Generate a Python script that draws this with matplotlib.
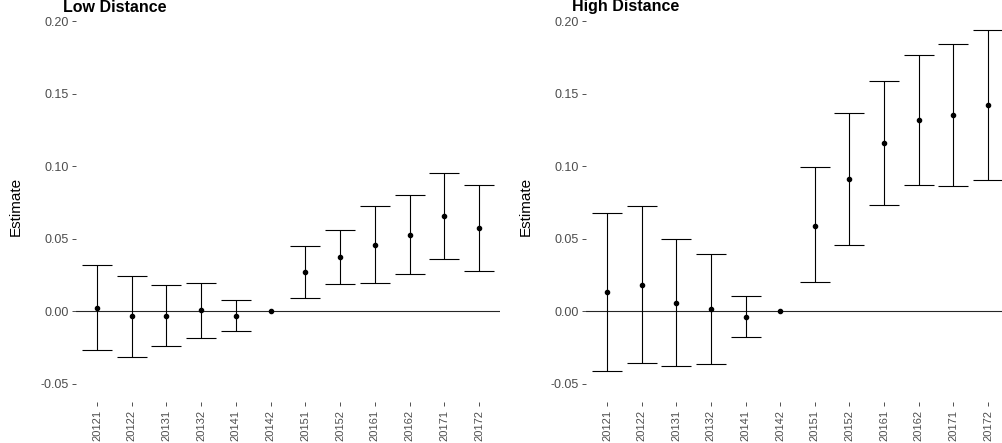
import matplotlib.pyplot as plt
import numpy as np

plt.rcParams['font.family'] = ['Liberation Sans', 'DejaVu Sans']

nan = float('nan')

# half-year periods (year + half), 20142 is the omitted reference period
periods = ['20121', '20122', '20131', '20132', '20141', '20142',
           '20151', '20152', '20161', '20162', '20171', '20172']

low_est = [0.0025, -0.0034, -0.0030, 0.0007, -0.0033, 0.0,
           0.0270, 0.0371, 0.0460, 0.0527, 0.0658, 0.0573]
low_lo = [-0.0269, -0.0317, -0.0241, -0.0181, -0.0133, nan,
          0.0092, 0.0188, 0.0197, 0.0259, 0.0360, 0.0275]
low_hi = [0.0317, 0.0243, 0.0179, 0.0195, 0.0078, nan,
          0.0447, 0.0562, 0.0724, 0.0802, 0.0953, 0.0871]

high_est = [0.0133, 0.0183, 0.0057, 0.0016, -0.0039, 0.0,
            0.0590, 0.0912, 0.1160, 0.1318, 0.1354, 0.1423]
high_lo = [-0.0412, -0.0357, -0.0380, -0.0360, -0.0179, nan,
           0.0200, 0.0460, 0.0733, 0.0871, 0.0861, 0.0902]
high_hi = [0.0680, 0.0724, 0.0500, 0.0397, 0.0103, nan,
           0.0992, 0.1370, 0.1586, 0.1766, 0.1844, 0.1936]

yticks = [-0.05, 0.0, 0.05, 0.10, 0.15, 0.20]


def draw_panel(ax, est, lo, hi):
    x = np.arange(len(periods))
    est = np.asarray(est)
    lo = np.asarray(lo)
    hi = np.asarray(hi)
    ok = ~np.isnan(lo)

    ax.axhline(0, color='#262626', lw=0.8, zorder=1)
    ax.errorbar(x[ok], est[ok], yerr=[est[ok] - lo[ok], hi[ok] - est[ok]],
                fmt='none', ecolor='black', elinewidth=0.8,
                capsize=10.8, capthick=0.8, zorder=2)
    ax.plot(x, est, 'o', color='black', ms=3, zorder=3)

    ax.set_xlim(-0.6, len(periods) - 0.4)
    ax.set_ylim(-0.0625, 0.2125)
    ax.set_xticks(x)
    ax.set_xticklabels(periods, rotation=90)
    ax.set_yticks(yticks)
    ax.set_yticklabels([f'{v:.2f}' for v in yticks])
    ax.tick_params(length=3, width=0.6, color='#333333',
                   labelcolor='#4D4D4D', labelsize=9, pad=2.5)
    ax.tick_params(axis='x', labelsize=8)
    for s in ax.spines.values():
        s.set_visible(False)
    ax.set_ylabel('Estimate', fontsize=11, color='black')
    ax.yaxis.set_label_coords(-0.127, 0.49)


W, H = 1002, 443
fig = plt.figure(figsize=(W / 100, H / 100), dpi=100)

ax1 = fig.add_axes([76.2 / W, 41 / H, 423.6 / W, 399 / H])
ax2 = fig.add_axes([586.2 / W, 41 / H, 422.6 / W, 399 / H])

draw_panel(ax1, low_est, low_lo, low_hi)
draw_panel(ax2, high_est, high_lo, high_hi)

fig.text(63 / W, 1 - 7 / H, 'Low Distance', fontsize=11.5,
         fontweight='bold', va='center', ha='left')
fig.text(572 / W, 1 - 7 / H, 'High Distance', fontsize=11.5,
         fontweight='bold', va='center', ha='left')

fig.savefig('out.png', dpi=100)
